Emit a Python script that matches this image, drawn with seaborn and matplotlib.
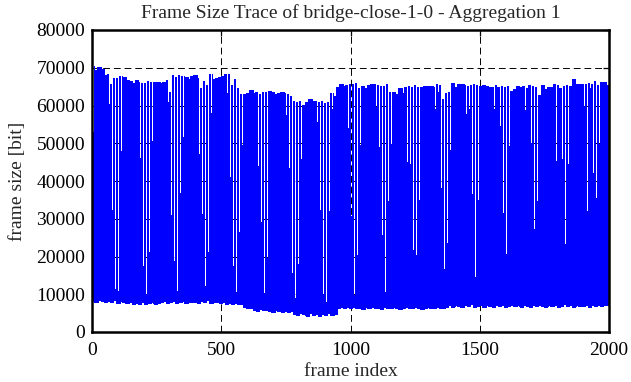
import numpy as np
import pandas as pd
import matplotlib
matplotlib.use("Agg")
import matplotlib.pyplot as plt
import seaborn as sns

top_levels = [
    70110, 69140, 69930, 69400, 67900, 68080, 65430, 67020, 67020, 67550,
    67280, 66490, 66220, 65780, 66490, 65960, 65700, 65700, 66220, 65960,
    65960, 65960, 65700, 65960, 66490, 63310, 67810, 67280, 67900, 67550,
    67280, 66750, 67550, 67810, 67020, 64370, 66220, 65250, 68080, 66750,
    67020, 67280, 67550, 68080, 68080, 65250, 66750, 64370, 62870, 62870,
    63050, 63840, 63050, 63310, 62870, 63310, 63310,
    63580, 63310, 62780, 63050, 63310, 63050, 62780, 62250, 60930, 60660,
    60930, 59870, 60660, 61460, 60930, 60930, 60660, 60930, 60400, 60660,
    63050, 62250, 64640, 65430, 64900, 65170, 65430, 65430, 65700, 64370,
    64900, 64370, 65170, 65430, 65430, 65170, 64900, 64900, 65430, 63310,
    63310, 62780, 64370, 63050, 64640, 64900, 64640, 65170, 64640, 64640,
    64900, 64900, 64900, 64640, 65430, 65170, 61460, 63050,
    63310, 65700, 64640, 65430, 65430, 65170, 64900, 65170, 65430, 65170,
    64900, 65170, 64900, 64640, 64640, 65170, 64640, 64900, 64640, 64900,
    63580, 64110, 64900, 64640, 64900, 64370, 65170, 64900, 64640, 62520,
    65170, 64110, 64640, 64640, 65430, 65170, 64370, 64900, 65170, 64900,
    66750, 65430, 65430, 65430, 65430, 65700, 65430, 66220, 65170, 65960,
    65960, 65170,
]

# smallest frame of each GOP
low_levels = [
    8300, 7900, 8500, 8100, 7800, 8200, 8000, 8400, 7700, 8100,
    7900, 7600, 7800, 7400, 7700, 7500, 7900, 7300, 7600, 7800,
    7500, 7700, 7800, 8200, 7600, 7900, 8300, 7700, 7900, 8100,
    7600, 8000, 7800, 7900, 7700, 8100, 7800, 8400, 7600, 8000,
    7800, 7700, 7900, 7500, 7600, 7400, 7700, 7300, 7500, 6600,
    6300, 6200, 5900, 5600, 6000, 5700, 5800,
    5600, 5300, 5700, 5400, 5200, 5600, 5300, 5500, 4800, 4500,
    5000, 4600, 4300, 4900, 4400, 4700, 4200, 4800, 4500, 4900,
    4400, 4700, 6300, 6600, 6200, 6500, 6400, 6700, 6300, 6400,
    6100, 6500, 6300, 6600, 6200, 6400, 6000, 6500, 6300, 6200,
    6600, 6400, 6100, 6300, 6500, 6200, 6400, 6600, 6300, 6100,
    6400, 6500, 6200, 6300, 6600, 6400, 6200, 6500,
    7000, 6700, 7200, 6800, 6600, 7100, 6900, 7300, 6700, 6800,
    7000, 6600, 7200, 6900, 6700, 7100, 6800, 7000, 6600, 6900,
    7200, 6800, 7000, 6700, 7100, 6900, 6600, 7000, 6800, 7200,
    6900, 6700, 7100, 6800, 7000, 6600, 6900, 7300, 6800, 7000,
    6700, 7100, 6900, 6800, 7200, 6600, 7000, 6900, 7100, 6800,
    7000, 7200,
]

# frames where the trace dips (white slits) and how high it reaches there
gap_frames = [
    5, 67, 79, 90, 102, 113, 187, 198, 210, 222, 233,
    297, 307, 318, 330, 342, 353, 415, 426, 438, 450, 461,
    523, 535, 547, 558, 570, 581, 643, 655, 666, 678, 689,
    752, 763, 775, 786, 798, 810, 871, 883, 894, 906, 918, 929,
    991, 1003, 1015, 1026, 1038, 1100, 1111, 1123, 1134, 1146, 1158,
    1220, 1231, 1243, 1254, 1266, 1328, 1339, 1351, 1362, 1374, 1386,
    1448, 1459, 1471, 1483, 1494, 1556, 1567, 1579, 1591, 1602, 1614,
    1676, 1687, 1699, 1711, 1722, 1796, 1807, 1819, 1831, 1842,
    1904, 1916, 1927, 1939, 1950, 1962,
]
gap_depths = [
    52800, 60130, 32140, 11130, 10680, 36110, 45830, 17310, 9800, 21020, 50420,
    60750, 30810, 18620, 10680, 36560, 51480, 46890, 30990, 12010, 21020, 44240,
    63000, 40890, 17130, 10420, 26140, 48830, 43800, 28960, 10000, 19250, 33200,
    57220, 43180, 15450, 8660, 17750, 45560, 55450, 28340, 8300, 7590, 31880, 58810,
    45390, 17040, 9540, 20130, 49270, 59430, 31610, 16690, 10240, 34520, 49530,
    44860, 31260, 9360, 20130, 34790, 58810, 38680, 17040, 11130, 23310, 48030,
    57490, 30990, 10420, 14300, 34790, 58810, 45390, 17040, 10420, 20400, 49090,
    58630, 30990, 17040, 10240, 34520, 45120, 19690, 9360, 20400, 44240,
    59700, 31880, 17040, 10420, 35230, 49530,
]

n_frames = 2000
gop_len = 12

frames = np.arange(n_frames)
gop = frames // gop_len
top = np.array(top_levels, dtype=float)
low = np.array(low_levels, dtype=float)
size = np.where(frames % 2 == 0, top[gop], low[gop])
for g, d in zip(gap_frames, gap_depths):
    g = g | 1
    lo, hi = max(g - 3, 0), min(g + 4, n_frames)
    size[lo:hi] = np.minimum(size[lo:hi], d)

df = pd.DataFrame({"frame": frames, "size": size})

sns.set_theme(style="white")
plt.rcParams['font.family'] = ['Liberation Serif', 'DejaVu Serif']
plt.rcParams['path.simplify'] = False

fig = plt.figure(figsize=(6.31, 3.82), dpi=100)
ax = fig.add_axes([92 / 631, 1 - 332 / 382, 517 / 631, 302 / 382])

sns.lineplot(data=df, x="frame", y="size", color="#0000ff", linewidth=0.6,
             estimator=None, sort=False, ax=ax, zorder=3, antialiased=False)

ax.set_xlim(0, 2000)
ax.set_ylim(0, 80000)
ax.set_xticks(range(0, 2001, 500))
ax.set_yticks(range(0, 80001, 10000))
ax.grid(True, color="black", linestyle=(0, (7, 4)), linewidth=0.7, zorder=0)
ax.set_axisbelow(True)

ax.tick_params(direction="in", length=4.5, width=0.9, colors="black",
               top=True, right=True, labelsize=14)
ax.tick_params(axis="x", pad=7)
ax.tick_params(axis="y", pad=5)
for s in ax.spines.values():
    s.set_color("black")
    s.set_linewidth(1.8)
    s.set_zorder(5)

ax.set_title("Frame Size Trace of bridge-close-1-0 - Aggregation 1", fontsize=14, pad=9)
ax.set_xlabel("frame index", fontsize=14, labelpad=3)
ax.set_ylabel("frame size [bit]", fontsize=14, labelpad=7)

fig.savefig("out.png", dpi=100)
